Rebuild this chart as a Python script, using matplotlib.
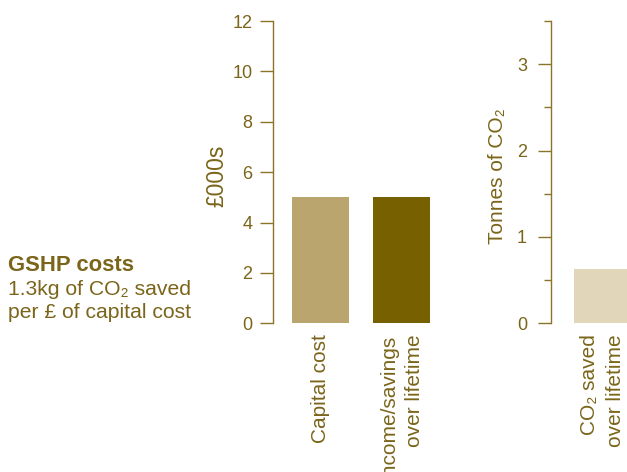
import matplotlib.pyplot as plt
from matplotlib.ticker import MultipleLocator

plt.rcParams['font.family'] = ['Liberation Sans', 'DejaVu Sans']

# data
cost_labels = ['Capital cost', 'Income/savings\nover lifetime']
cost_values = [5.0, 5.0]          # £000s
co2_labels = ['CO₂ saved\nover lifetime']
co2_values = [0.63]               # tonnes

text_col = '#7a651a'
axis_col = '#8b7328'
cost_colors = ['#b9a56d', '#776000']
co2_color = '#e1d6b9'


def style_axis(ax, ylabel, label_x, label_size):
    for side in ['top', 'right', 'bottom']:
        ax.spines[side].set_visible(False)
    ax.spines['left'].set_color(axis_col)
    ax.spines['left'].set_linewidth(1.0)
    ax.tick_params(axis='x', length=0, pad=8, labelsize=15, colors=text_col)
    ax.tick_params(axis='y', which='major', length=9.6, width=1.0,
                   colors=axis_col, labelcolor=text_col, labelsize=13)
    ax.tick_params(axis='y', which='minor', length=5.3, width=1.0, colors=axis_col)
    ax.set_ylabel(ylabel, fontsize=label_size, color=text_col)
    ax.yaxis.set_label_coords(label_x, 0.487)
    for lab in ax.get_xticklabels():
        lab.set_rotation(90)
        lab.set_va('top')
        lab.set_ha('center')
        lab.set_multialignment('right')
        lab.set_linespacing(1.45)


fig = plt.figure(figsize=(6.27, 4.72), dpi=100)

# money chart
ax1 = fig.add_axes([0.4349, 0.315, 0.2702, 0.6405])
x1 = range(len(cost_values))
ax1.bar(x1, cost_values, width=0.7, color=cost_colors)
ax1.set_xlim(-0.586, 1.5)
ax1.set_ylim(0, 12)
ax1.set_yticks(range(0, 13, 2))
ax1.set_xticks(list(x1))
ax1.set_xticklabels(cost_labels)
style_axis(ax1, '£000s', -0.262, 16.5)
ax1.tick_params(axis='y', pad=5)

# CO2 chart
ax2 = fig.add_axes([0.8783, 0.315, 0.1554, 0.6405])
x2 = range(len(co2_values))
ax2.bar(x2, co2_values, width=0.7, color=co2_color)
ax2.set_xlim(-0.637, 0.563)
ax2.set_ylim(0, 3.5)
ax2.yaxis.set_major_locator(MultipleLocator(1))
ax2.yaxis.set_minor_locator(MultipleLocator(0.5))
ax2.set_xticks(list(x2))
ax2.set_xticklabels(co2_labels)
style_axis(ax2, 'Tonnes of CO₂', -0.452, 15)
ax2.tick_params(axis='y', which='major', pad=7.5)

# side note
fig.text(0.0133, 0.4265, 'GSHP costs', fontsize=15.9, fontweight='bold',
         color=text_col, va='baseline')
fig.text(0.0133, 0.375, '1.3kg of CO₂ saved', fontsize=15.2, color=text_col, va='baseline')
fig.text(0.0133, 0.326, 'per £ of capital cost', fontsize=15.2, color=text_col, va='baseline')

fig.savefig('out.png', dpi=100)
